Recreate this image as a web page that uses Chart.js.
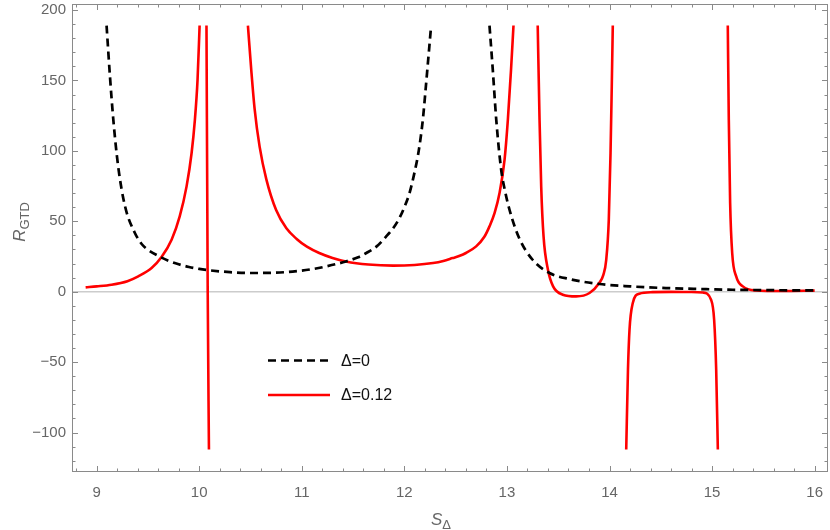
<!DOCTYPE html>
<html>
<head>
<meta charset="utf-8">
<script src="https://cdn.jsdelivr.net/npm/chart.js@4/dist/chart.umd.min.js"></script>
<style>
html,body{margin:0;padding:0;background:#fff;}
#wrap{width:830px;height:530px;position:relative;}
</style>
</head>
<body>
<div id="wrap"><canvas id="c" width="830" height="530"></canvas></div>
<script>
// ---- data ----
const seriesNames = ['\u0394=0', '\u0394=0.12'];
const xTickValues = [9, 10, 11, 12, 13, 14, 15, 16];
const yTickValues = [-100, -50, 0, 50, 100, 150, 200];

// Δ=0 (black dashed); null separates branches
const blackX = [9.097, 9.13, 9.163, 9.21, 9.276, 9.373, 9.45, 9.50, 9.60, 9.70, 9.80, 9.90, 10.0, 10.10, 10.30, 10.49, 10.70, 10.91, 11.10, 11.24, 11.43, 11.55, 11.63, 11.73, 11.82, 11.89, 11.95, 12.00, 12.05, 12.10, 12.14, 12.18, 12.21, 12.26,
                12.5,
                12.83, 12.862, 12.896, 12.944, 12.98, 13.025, 13.12, 13.25, 13.415, 13.61, 13.90, 14.2, 14.55, 14.9, 15.2, 15.6, 16.0];
const blackY = [189, 153, 122, 89, 61, 41.7, 33, 29.8, 25.5, 22.0, 19.5, 17.6, 16.2, 15.2, 13.9, 13.3, 13.4, 14.3, 16.0, 18.0, 21.5, 24.5, 27.5, 32.2, 39, 45, 52, 60, 70, 85, 100, 122, 146, 188,
                null,
                189, 157.7, 122, 86.6, 72, 58.2, 38, 22.7, 13.3, 9.0, 5.5, 3.8, 2.6, 1.9, 1.4, 1.1, 0.9];

// Δ=0.12 (red solid); null separates branches
const redX = [8.893, 9.0, 9.146, 9.3, 9.406, 9.536, 9.633, 9.731, 9.81, 9.877, 9.926, 9.958, 9.984, 10.004,
              10.04,
              10.071, 10.083, 10.095,
              10.3,
              10.475, 10.508, 10.54, 10.589, 10.654, 10.75, 10.85, 10.95, 11.05, 11.17, 11.30, 11.43, 11.65, 11.89, 12.10, 12.28, 12.38, 12.47, 12.54, 12.60, 12.70, 12.78, 12.83, 12.88, 12.928, 12.977, 13.009, 13.04, 13.064,
              13.2,
              13.30, 13.318, 13.334, 13.357, 13.40, 13.45, 13.545, 13.675, 13.805, 13.90, 13.94, 13.968, 13.993, 14.01, 14.022, 14.032,
              14.1,
              14.163, 14.18, 14.195, 14.227, 14.29, 14.42, 14.6, 14.8, 14.91, 14.99, 15.02, 15.04, 15.056,
              15.1,
              15.153, 15.163, 15.176, 15.196, 15.235, 15.30, 15.43, 15.69, 16.0];
const redY = [3.1, 3.8, 5.0, 7.5, 10.9, 16.8, 24.6, 36.9, 53.5, 74.8, 98.5, 122, 150.6, 189,
              null,
              189, 0, -112,
              null,
              189, 157, 130, 103, 80, 58, 45, 37.5, 32, 27.5, 24, 21.5, 19.3, 18.5, 19.0, 20.4, 21.9, 23.9, 25.5, 27.5, 32.2, 39, 46.4, 56, 70.1, 93.8, 122, 157.7, 189,
              null,
              189, 122, 74.8, 39.3, 15.6, 3.8, -2.1, -3.3, -0.9, 6.2, 12, 22.7, 51, 98.5, 145.8, 189,
              null,
              -112, -55.4, -27, -8.0, -1.4, -0.3, -0.1, -0.2, -0.6, -5.7, -19.9, -55.4, -112,
              null,
              189, 122, 63, 27.5, 10.9, 3.8, 0.9, 0.5, 0.8];

const toPts = (xs, ys) => xs.map((x, i) => ({x: x, y: ys[i]}));

const FONT = '"Liberation Sans", Arial, sans-serif';
const AXIS_COLOR = '#8a8a8a';
const LABEL_COLOR = '#666666';

function fmt(v) { return v < 0 ? '\u2212' + Math.abs(v) : String(v); }

const decor = {
  id: 'decor',
  beforeDatasetsDraw(chart) {
    const {ctx, chartArea: a, scales: {y}} = chart;
    const y0 = y.getPixelForValue(0);
    ctx.save();
    ctx.strokeStyle = '#cccccc';
    ctx.lineWidth = 1.5;
    ctx.beginPath();
    ctx.moveTo(a.left, y0); ctx.lineTo(a.right, y0);
    ctx.stroke();
    ctx.restore();
  },
  afterDraw(chart) {
    const {ctx, chartArea: a, scales: {x, y}} = chart;
    ctx.save();
    ctx.strokeStyle = AXIS_COLOR;
    ctx.lineWidth = 1;
    ctx.strokeRect(a.left + 0.5, a.top + 0.5, a.right - a.left - 1, a.bottom - a.top - 1);
    const major = 6, minor = 3.5;
    ctx.beginPath();
    for (let k = Math.ceil(x.min * 5); k <= Math.floor(x.max * 5); k++) {
      const v = k / 5;
      const len = (k % 5 === 0) ? major : minor;
      const px = Math.round(x.getPixelForValue(v)) + 0.5;
      ctx.moveTo(px, a.bottom); ctx.lineTo(px, a.bottom - len);
      ctx.moveTo(px, a.top); ctx.lineTo(px, a.top + len);
    }
    for (let k = Math.ceil(y.min / 10); k <= Math.floor(y.max / 10); k++) {
      const v = k * 10;
      const len = (k % 5 === 0) ? major : minor;
      const py = Math.round(y.getPixelForValue(v)) + 0.5;
      ctx.moveTo(a.left, py); ctx.lineTo(a.left + len, py);
      ctx.moveTo(a.right, py); ctx.lineTo(a.right - len, py);
    }
    ctx.stroke();

    ctx.fillStyle = LABEL_COLOR;
    ctx.textBaseline = 'alphabetic';
    // y title R_GTD rotated
    ctx.save();
    ctx.translate(25, 222);
    ctx.rotate(-Math.PI / 2);
    ctx.font = 'italic 17px ' + FONT;
    const wR = ctx.measureText('R').width;
    ctx.font = '13px ' + FONT;
    const wS = ctx.measureText('GTD').width;
    const startX = -(wR + wS) / 2;
    ctx.font = 'italic 17px ' + FONT;
    ctx.textAlign = 'left';
    ctx.fillText('R', startX, 0);
    ctx.font = '13px ' + FONT;
    ctx.fillText('GTD', startX + wR, 4);
    ctx.restore();
    // x title S_Δ
    ctx.save();
    ctx.font = 'italic 17px ' + FONT;
    const wS2 = ctx.measureText('S').width;
    ctx.font = '13px ' + FONT;
    const wD = ctx.measureText('\u0394').width;
    const cx = 441;
    const sx = cx - (wS2 + wD) / 2;
    ctx.textAlign = 'left';
    ctx.font = 'italic 17px ' + FONT;
    ctx.fillText('S', sx, 525);
    ctx.font = '13px ' + FONT;
    ctx.fillText('\u0394', sx + wS2, 529);
    ctx.restore();

    // legend
    const ds = chart.data.datasets;
    const rows = [{yy: 360.5, d: ds[0]}, {yy: 395, d: ds[1]}];
    rows.forEach(r => {
      ctx.save();
      ctx.strokeStyle = r.d.borderColor;
      ctx.lineWidth = r.d.borderWidth;
      ctx.setLineDash(r.d.borderDash || []);
      ctx.beginPath();
      ctx.moveTo(268, r.yy); ctx.lineTo(330, r.yy);
      ctx.stroke();
      ctx.restore();
      ctx.save();
      ctx.fillStyle = '#111';
      ctx.font = '16px ' + FONT;
      ctx.textBaseline = 'middle';
      ctx.textAlign = 'left';
      ctx.fillText(r.d.label, 341, r.yy + 1);
      ctx.restore();
    });
    ctx.restore();
  }
};

new Chart(document.getElementById('c'), {
  type: 'line',
  data: {
    datasets: [
      {
        label: seriesNames[0],
        data: toPts(blackX, blackY),
        borderColor: '#000000',
        borderWidth: 2.7,
        borderDash: [8, 5],
        pointRadius: 0,
        fill: false,
        spanGaps: false,
        cubicInterpolationMode: 'monotone'
      },
      {
        label: seriesNames[1],
        data: toPts(redX, redY),
        borderColor: '#ff0000',
        borderWidth: 2.6,
        pointRadius: 0,
        fill: false,
        spanGaps: false,
        cubicInterpolationMode: 'monotone'
      }
    ]
  },
  options: {
    responsive: false,
    animation: false,
    layout: {padding: {top: 4, right: 2, left: 0, bottom: 0}},
    plugins: {legend: {display: false}, tooltip: {enabled: false}},
    scales: {
      x: {
        type: 'linear',
        min: 8.76, max: 16.13,
        afterBuildTicks: s => { s.ticks = xTickValues.map(v => ({value: v})); },
        afterFit: s => { s.height = 58; s.paddingLeft = 0; s.paddingRight = 0; },
        grid: {display: false, drawTicks: false},
        border: {display: false},
        ticks: {color: LABEL_COLOR, font: {family: FONT, size: 15}, padding: 12, maxRotation: 0,
                callback: v => fmt(v)}
      },
      y: {
        type: 'linear',
        min: -128, max: 204.3,
        afterBuildTicks: s => { s.ticks = yTickValues.map(v => ({value: v})); },
        afterFit: s => { s.width = 72; s.paddingTop = 0; s.paddingBottom = 0; },
        grid: {display: false, drawTicks: false},
        border: {display: false},
        ticks: {color: LABEL_COLOR, font: {family: FONT, size: 15}, padding: 6,
                callback: v => fmt(v)}
      }
    }
  },
  plugins: [decor]
});
</script>
</body>
</html>
